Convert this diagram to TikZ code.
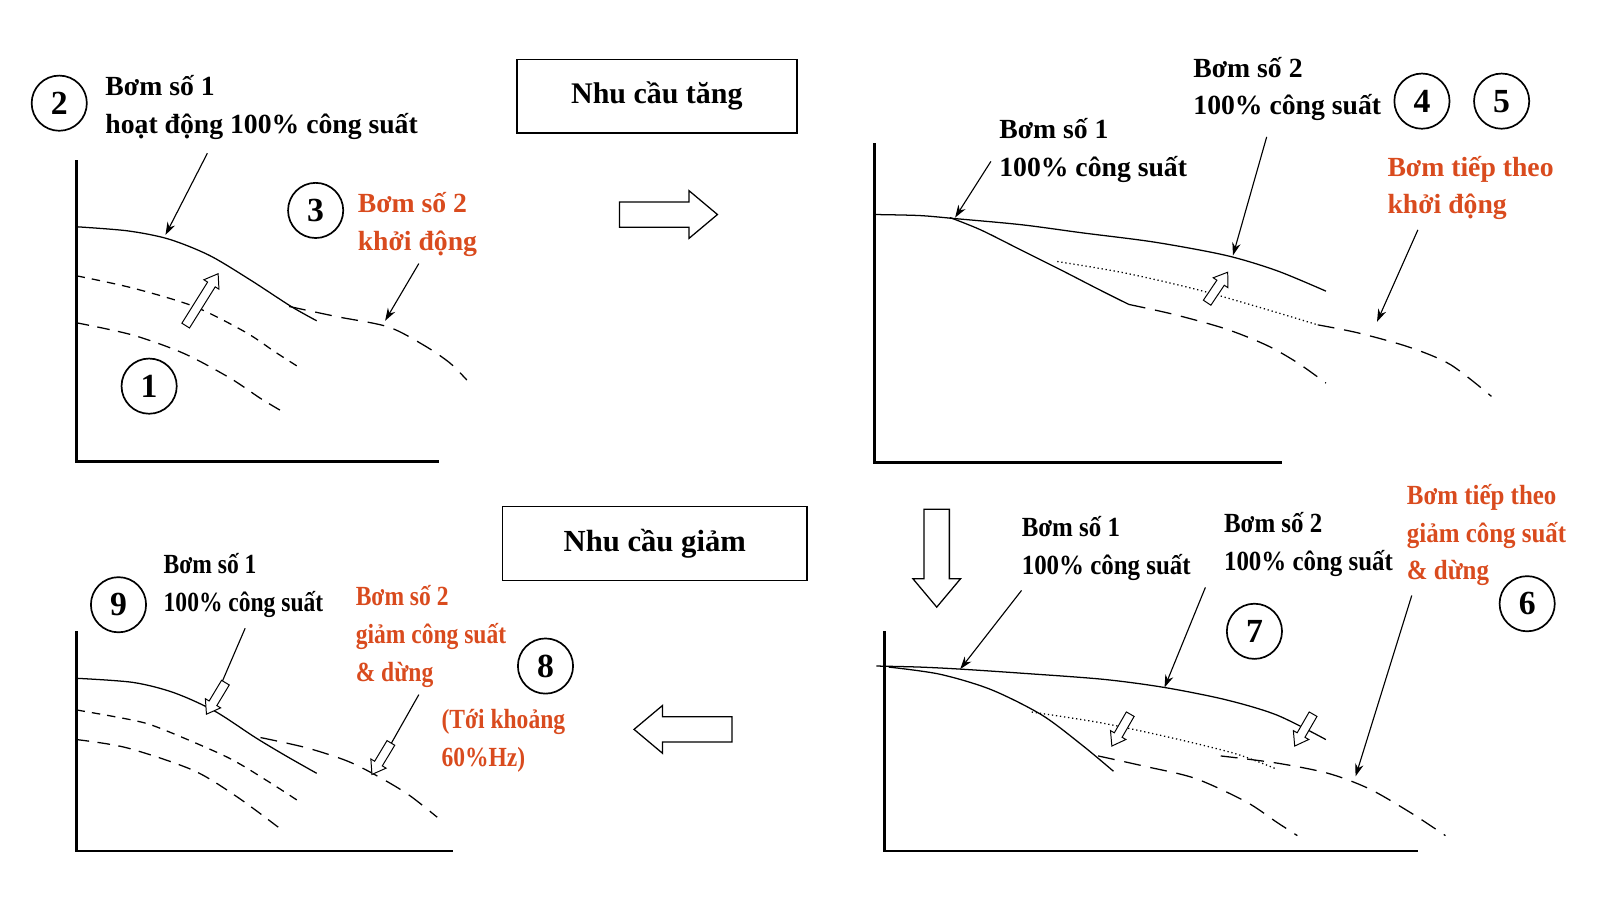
\documentclass[tikz,border=0pt]{standalone}
\usepackage{fontspec}
\setmainfont{Liberation Serif}
\newfontfamily\narrowA[FakeStretch=0.9]{Liberation Serif}
\newfontfamily\narrowB[FakeStretch=0.85]{Liberation Serif}
\usepackage{tikz}
\usetikzlibrary{arrows.meta,shapes.arrows}
\definecolor{pumpred}{RGB}{217,75,30}

\begin{document}
\begin{tikzpicture}[x=0.025538cm,y=-0.025538cm,
  lbl/.style={anchor=west,inner sep=0pt,align=left,font=\fontsize{19.7}{26.8}\selectfont\bfseries},
  lblc/.style={lbl,font=\narrowA\fontsize{19.7}{26.8}\selectfont\bfseries},
  lbld/.style={lbl,font=\narrowB\fontsize{19.7}{26.8}\selectfont\bfseries},
  red/.style={text=pumpred},
  num/.style={draw,circle,line width=1.2pt,minimum size=1.38cm,inner sep=0pt,font=\fontsize{24}{24}\selectfont\bfseries},
  demand/.style={draw,line width=1pt,minimum height=1.84cm,font=\fontsize{21.8}{22}\selectfont\bfseries},
  axis/.style={line width=2pt},
  curve/.style={line width=0.9pt},
  shortdash/.style={curve,dash pattern=on 6pt off 5pt},
  middash/.style={curve,dash pattern=on 9pt off 6pt},
  longdash/.style={curve,dash pattern=on 12pt off 7pt},
  pointer/.style={line width=0.8pt,-{Stealth[length=9pt,width=6pt]}},
  bigarrow/.style={single arrow,draw,line width=0.9pt,inner sep=0.3cm,minimum height=2.45cm,
    single arrow head extend=0.28cm,single arrow tip angle=80},
  smallarrow/.style={single arrow,draw,line width=0.7pt,inner sep=0.1cm,minimum height=0.92cm,
    single arrow head extend=0.11cm,single arrow tip angle=70,fill=white}]
\useasboundingbox (0,0) rectangle (1566.3,884);

% top left: pump 1 at full speed, pump 2 starts
\draw[axis] (75,157) -- (75,452) -- (430,452);
\draw[curve] plot[smooth] coordinates {(75,222) (125,226) (165,234) (205,250) (245,274) (285,300) (310,314)};
\draw[shortdash] plot[smooth] coordinates {(75,270) (130,282) (190,300) (240,325) (270,345) (295,361)};
\draw[middash] plot[smooth] coordinates {(75,316) (130,328) (180,346) (225,370) (255,390) (275,402)};
\draw[longdash] plot[smooth] coordinates {(283,300) (330,310) (380,320) (415,338) (440,355) (457,372)};
\node[smallarrow,minimum height=1.53cm,rotate=58] (up1) at (196,296) {};
\node[num] (n2) at (58,101) {2};
\node[num] (n3) at (309,206) {3};
\node[num] (n1) at (146,378) {1};
\node[lbl] (p1a) at (103,105) {Bơm số 1\\hoạt động 100\% công suất};
\node[lbl,red] (p2a) at (350,220) {Bơm số 2\\khởi động};
\coordinate (p1aS) at (203,150);
\coordinate (p1aE) at (162,230);
\coordinate (p2aS) at (410,258);
\coordinate (p2aE) at (377,314);
\draw[pointer] (p1aS) -- (p1aE);
\draw[pointer] (p2aS) -- (p2aE);

% demand boxes and block arrows
\node[demand,minimum width=7cm,font=\fontsize{21.3}{22}\selectfont\bfseries] (up) at (643,94) {Nhu cầu tăng};
\node[demand,minimum width=7.61cm] (down) at (641,532) {Nhu cầu giảm};
\node[bigarrow] (toright) at (647,210) {};
\node[bigarrow,rotate=-90] (todown) at (917,539) {};
\node[bigarrow,rotate=180] (toleft) at (676,714) {};

% top right: pump 2 at full speed, next pump starts
\draw[axis] (856,140) -- (856,453) -- (1255,453);
\draw[curve] plot[smooth] coordinates {(856,210) (900,211) (935,214) (1000,220) (1060,228) (1130,237) (1200,250) (1250,265) (1298,285)};
\draw[curve] plot[smooth] coordinates {(930,213) (960,225) (1000,245) (1040,265) (1075,283) (1105,298)};
\draw[longdash] plot[smooth] coordinates {(1105,298) (1150,308) (1200,322) (1240,338) (1270,355) (1298,375)};
\draw[curve,dotted] plot[smooth] coordinates {(1035,256) (1100,267) (1170,283) (1230,300) (1290,318)};
\draw[longdash] plot[smooth] coordinates {(1290,318) (1330,326) (1380,340) (1420,357) (1460,388)};
\node[smallarrow,rotate=56] (up2) at (1190,284) {};
\node[num] (n4) at (1392,99) {4};
\node[num] (n5) at (1470,99) {5};
\node[lbl] (p1b) at (978,147) {Bơm số 1\\100\% công suất};
\node[lbl] (p2b) at (1168,87) {Bơm số 2\\100\% công suất};
\node[lbl,red] (nextb) at (1358,184) {Bơm tiếp theo\\khởi động};
\coordinate (p1bS) at (970,158);
\coordinate (p1bE) at (935,213);
\coordinate (p2bS) at (1240,134);
\coordinate (p2bE) at (1207,250);
\coordinate (nextbS) at (1388,225);
\coordinate (nextbE) at (1348,315);
\draw[pointer] (p1bS) -- (p1bE);
\draw[pointer] (p2bS) -- (p2bE);
\draw[pointer] (nextbS) -- (nextbE);

% bottom right: next pump slows down and stops
\draw[axis] (866,618) -- (866,833) -- (1388,833);
\draw[curve] plot[smooth] coordinates {(858,652) (900,653) (940,655) (1000,659) (1080,665) (1140,673) (1200,685) (1250,700) (1298,724)};
\draw[curve] plot[smooth] coordinates {(870,653) (920,660) (970,675) (1020,700) (1060,730) (1090,755)};
\draw[curve,dotted] plot[smooth] coordinates {(1010,697) (1080,708) (1150,723) (1210,738) (1250,753)};
\draw[longdash] plot[smooth] coordinates {(1075,740) (1120,750) (1170,762) (1220,785) (1250,805) (1270,818)};
\draw[longdash] plot[smooth] coordinates {(1195,740) (1250,747) (1300,757) (1340,772) (1380,795) (1415,818)};
\node[smallarrow,rotate=-120] (dn1) at (1099,712) {};
\node[smallarrow,rotate=-120] (dn2) at (1278,712) {};
\node[num] (n7) at (1228,618) {7};
\node[num] (n6) at (1495,591) {6};
\node[lblc] (p1c) at (1000,537) {Bơm số 1\\100\% công suất};
\node[lblc] (p2c) at (1198,533) {Bơm số 2\\100\% công suất};
\node[lblc,red] (nextc) at (1377,524) {Bơm tiếp theo\\giảm công suất\\\& dừng};
\coordinate (p1cS) at (1000,578);
\coordinate (p1cE) at (940,655);
\coordinate (p2cS) at (1180,575);
\coordinate (p2cE) at (1140,673);
\coordinate (nextcS) at (1382,583);
\coordinate (nextcE) at (1327,760);
\draw[pointer] (p1cS) -- (p1cE);
\draw[pointer] (p2cS) -- (p2cE);
\draw[pointer] (nextcS) -- (nextcE);

% bottom left: back to pump 1 alone
\draw[axis] (75,618) -- (75,833) -- (443,833);
\draw[curve] plot[smooth] coordinates {(75,664) (130,668) (170,678) (210,696) (250,722) (280,740) (310,757)};
\draw[shortdash] plot[smooth] coordinates {(75,695) (130,705) (157,713) (222,741) (261,764) (295,786)};
\draw[middash] plot[smooth] coordinates {(75,724) (124,732) (189,754) (232,780) (274,811)};
\draw[longdash] plot[smooth] coordinates {(255,722) (300,732) (340,745) (370,760) (400,778) (428,800)};
\node[num] (n9) at (116,592) {9};
\node[num] (n8) at (534,652) {8};
\node[lbld] (p1d) at (160,573) {Bơm số 1\\100\% công suất};
\node[lbld,red] (p2d) at (348,623) {Bơm số 2\\giảm công suất\\\& dừng};
\node[lbld,red] (hz) at (432,725) {(Tới khoảng\\60\%Hz)};
\coordinate (p1dS) at (240,615);
\coordinate (p1dE) at (206,694);
\coordinate (p2dS) at (410,680);
\coordinate (p2dE) at (367,756);
\draw[line width=0.8pt] (p1dS) -- (p1dE);
\draw[line width=0.8pt] (p2dS) -- (p2dE);
\node[smallarrow,rotate=-121] (dn3) at (213,681) {};
\node[smallarrow,rotate=-121] (dn4) at (375,740) {};
\end{tikzpicture}
\end{document}
